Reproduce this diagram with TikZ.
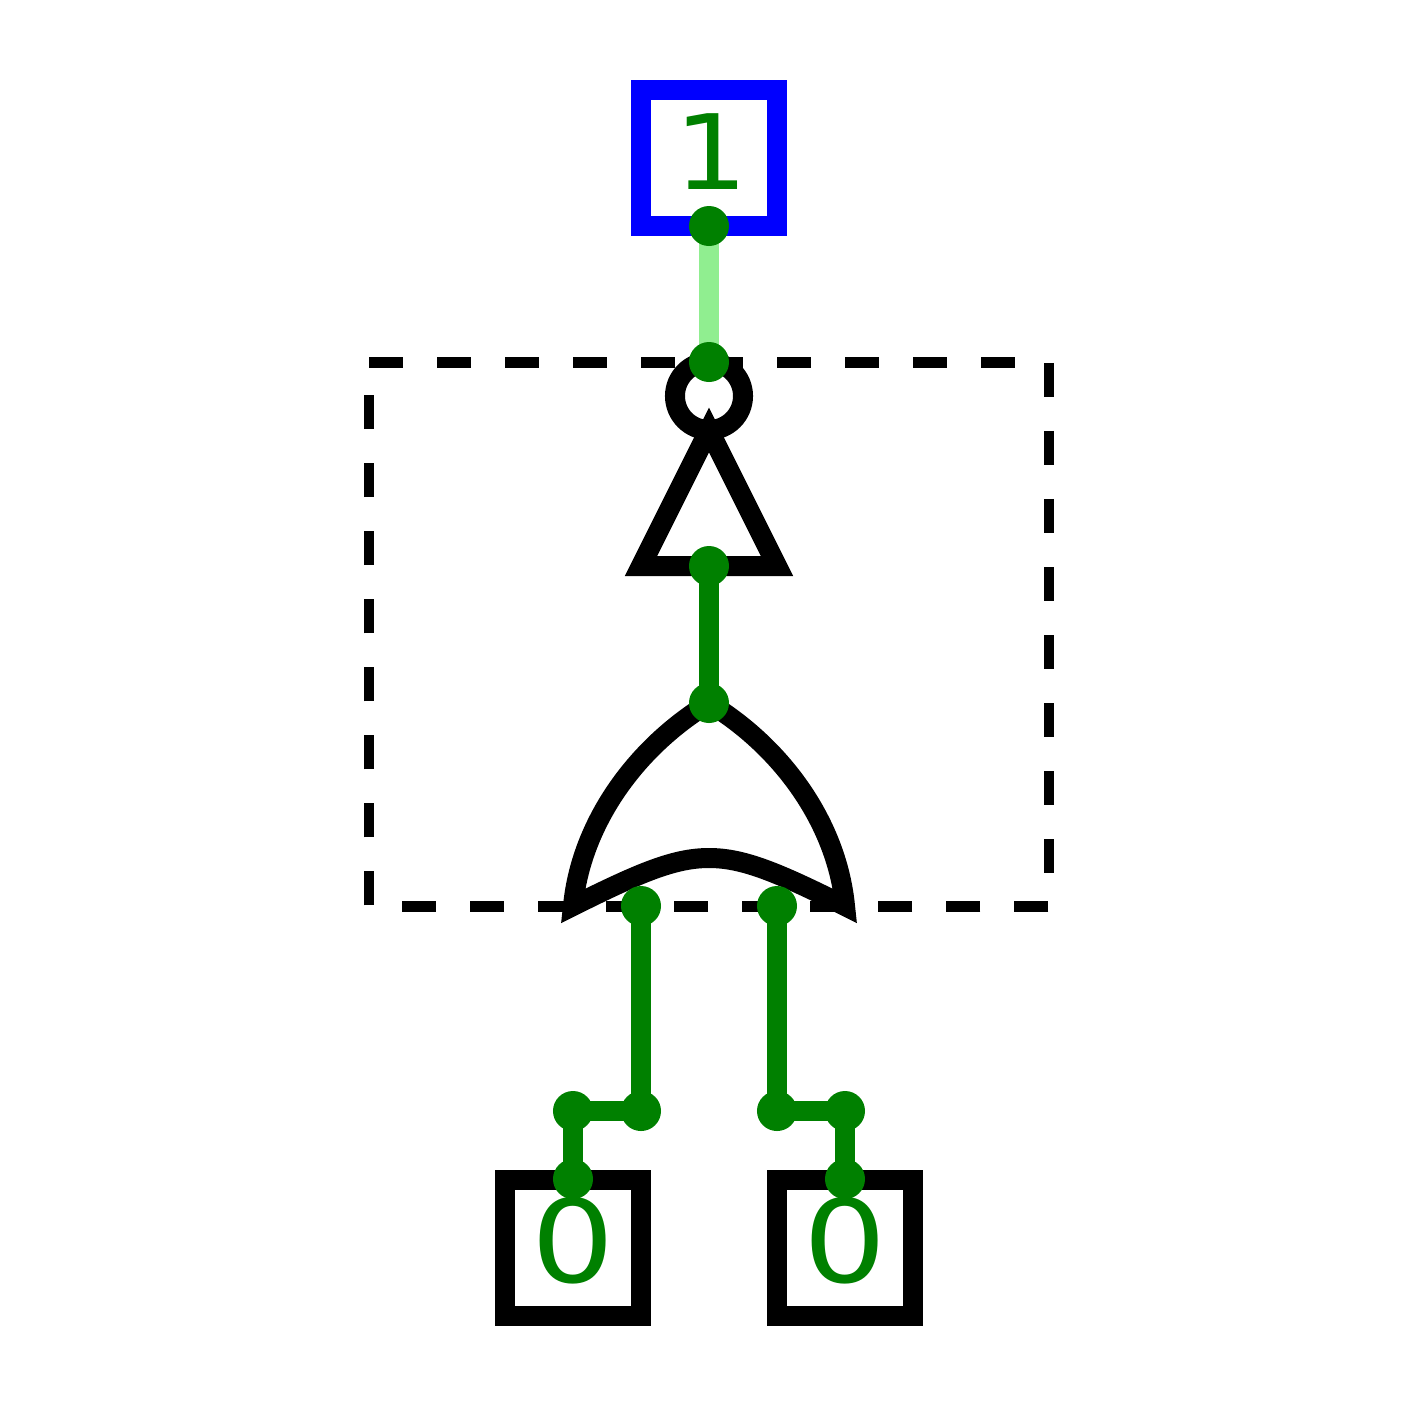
\documentclass[tikz,border=0pt]{standalone}
\usepackage{graphicx}
\usepackage{fontspec}
\usepackage{tikz}
\usetikzlibrary{backgrounds}
\newfontfamily\valfont{DejaVu Sans}
\definecolor{wiredark}{RGB}{0,128,0}
\definecolor{wirelight}{RGB}{144,238,144}
\tikzstyle{gate}=[draw=black,line width=2mm]
\tikzstyle{group}=[draw=black,line width=1.05mm,dash pattern=on 3.4mm off 3.4mm]
\tikzstyle{inbox}=[rectangle,draw=black,line width=2mm,minimum size=13.6mm,inner sep=0pt]
\tikzstyle{outbox}=[rectangle,draw=blue,line width=2mm,minimum size=13.6mm,inner sep=0pt]
\tikzstyle{bubble}=[circle,draw=black,line width=2mm,minimum size=6.8mm,inner sep=0pt]
\tikzstyle{pin}=[circle,fill=wiredark,minimum size=4mm,inner sep=0pt]
\tikzstyle{wire}=[draw=wiredark,line width=2mm]
\tikzstyle{hotwire}=[draw=wirelight,line width=2mm]
\tikzstyle{val}=[text=wiredark,inner sep=0pt,font=\valfont\fontsize{30.5}{36}\selectfont]
\begin{document}
\begin{tikzpicture}[x=0.01cm,y=-0.01cm]
\useasboundingbox (0,0) rectangle (1408,1408);
\draw[group] (369,362.5) -- (1049,362.5) -- (1049,906.5) -- (369,906.5) -- cycle;
\node[outbox] (out) at (709,158) {};
\node[inbox] (ina) at (573,1248) {};
\node[inbox] (inb) at (845,1248) {};
\node[val] (outval) at (711,152) {\scalebox{1.08}[0.97]{1}};
\node[val] (inaval) at (573,1241) {\scalebox{1.22}[1.07]{0}};
\node[val] (inbval) at (845,1241) {\scalebox{1.22}[1.07]{0}};
\node[bubble] (inv) at (709,396) {};
\draw[gate] (641,566) -- (777,566) -- (709,430) -- cycle;
\draw[gate] (573,906) .. controls (581,824) and (635,748) .. (709,703)
  .. controls (783,748) and (837,824) .. (845,906)
  .. controls (777,872) and (743,858) .. (709,858)
  .. controls (675,858) and (641,872) .. (573,906) -- cycle;
\node[pin] (outpin) at (709,226) {};
\node[pin] (invtop) at (709,362) {};
\node[pin] (invbot) at (709,566) {};
\node[pin] (ortop) at (709,703) {};
\node[pin] (orl) at (641,906) {};
\node[pin] (orr) at (777,906) {};
\node[pin] (bendl) at (641,1111) {};
\node[pin] (bendla) at (573,1111) {};
\node[pin] (bendr) at (777,1111) {};
\node[pin] (bendrb) at (845,1111) {};
\node[pin] (inapin) at (573,1179) {};
\node[pin] (inbpin) at (845,1179) {};
\begin{pgfonlayer}{background}
\draw[hotwire] (outpin.center) -- (invtop.center);
\draw[wire] (invbot.center) -- (ortop.center);
\draw[wire] (orl.center) -- (bendl.center);
\draw[wire] (bendl.center) -- (bendla.center);
\draw[wire] (bendla.center) -- (inapin.center);
\draw[wire] (orr.center) -- (bendr.center);
\draw[wire] (bendr.center) -- (bendrb.center);
\draw[wire] (bendrb.center) -- (inbpin.center);
\end{pgfonlayer}
\end{tikzpicture}
\end{document}
